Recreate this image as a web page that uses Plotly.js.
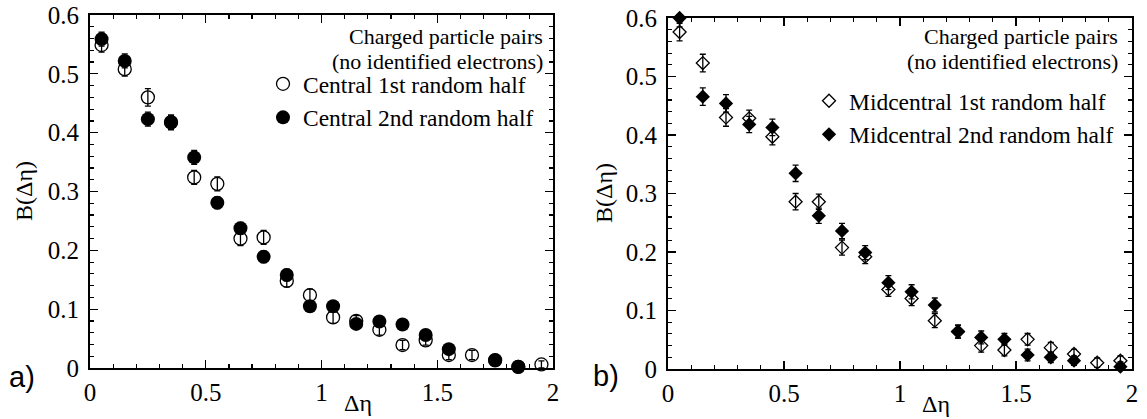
<!DOCTYPE html>
<html><head><meta charset="utf-8">
<script src="https://cdn.plot.ly/plotly-3.0.1.min.js"></script>
<style>html,body{margin:0;padding:0;background:#fff}#g{width:1147px;height:419px}</style>
</head><body><div id="g"></div>
<script>
const dEta = [0.05,0.15,0.25,0.35,0.45,0.55,0.65,0.75,0.85,0.95,1.05,1.15,1.25,1.35,1.45,1.55,1.65,1.75,1.85,1.95];
const central1 = [0.549,0.508,0.460,0.418,0.324,0.313,0.220,0.222,0.148,0.124,0.086,0.080,0.065,0.039,0.047,0.022,0.022,0.013,0.002,0.006];
const central1Err = [0.012,0.012,0.015,0.012,0.012,0.012,0.012,0.012,0.010,0.010,0.010,0.009,0.009,0.008,0.008,0.008,0.008,0.007,0.006,0.006];
const central2 = [0.559,0.522,0.423,0.417,0.358,0.281,0.2375,0.189,0.158,0.105,0.105,0.075,0.079,0.074,0.056,0.032,null,0.0136,0.002,null];
const central2Err = [0.012,0.012,0.012,0.012,0.012,0.010,0.010,0.010,0.010,0.009,0.009,0.008,0.008,0.008,0.008,0.007,0.007,0.006,0.006,0.006];
const mid1 = [0.576,0.523,0.430,0.4285,0.397,0.286,0.286,0.2075,0.192,0.136,0.1205,0.0826,0.064,0.040,0.0325,0.0507,0.0365,0.0256,0.0108,0.0142];
const mid1Err = [0.015,0.015,0.015,0.014,0.014,0.014,0.013,0.013,0.012,0.012,0.012,0.012,0.011,0.011,0.010,0.010,0.009,0.008,0.008,0.008];
const mid2 = [0.600,0.4655,0.454,0.418,0.413,0.3345,0.262,0.236,0.199,0.1476,0.132,0.1094,0.0638,0.054,0.0507,0.024,0.020,0.0142,null,0.004];
const mid2Err = [0.015,0.015,0.015,0.014,0.014,0.014,0.013,0.013,0.012,0.012,0.012,0.012,0.011,0.011,0.010,0.010,0.009,0.008,0.008,0.008];
const legendHeader = ["Charged particle pairs","(no identified electrons)"];
const names = ["Central 1st random half","Central 2nd random half","Midcentral 1st random half","Midcentral 2nd random half"];

const SERIF = "'Liberation Serif', 'DejaVu Serif', serif";
const SANS = "'Liberation Sans', Arial, sans-serif";
function eb(arr){return {type:'data',array:arr,visible:true,color:'#000',thickness:1.3,width:3};}
const traces = [
 {x:dEta,y:central1,error_y:eb(central1Err),mode:'markers',name:names[0],xaxis:'x',yaxis:'y',legend:'legend',
  marker:{symbol:'circle-open',size:13,color:'#000',line:{width:1.3,color:'#000'}},cliponaxis:false},
 {x:dEta,y:central2,error_y:eb(central2Err),mode:'markers',name:names[1],xaxis:'x',yaxis:'y',legend:'legend',
  marker:{symbol:'circle',size:14,color:'#000'},cliponaxis:false},
 {x:dEta,y:mid1,error_y:eb(mid1Err),mode:'markers',name:names[2],xaxis:'x2',yaxis:'y2',legend:'legend2',
  marker:{symbol:'diamond-open',size:10,color:'#000',line:{width:1.3,color:'#000'}},cliponaxis:false},
 {x:dEta,y:mid2,error_y:eb(mid2Err),mode:'markers',name:names[3],xaxis:'x2',yaxis:'y2',legend:'legend2',
  marker:{symbol:'diamond',size:11,color:'#000'},cliponaxis:false}
];
function xax(dom,anchor){return {domain:dom,anchor:anchor,range:[0,2],dtick:0.5,tick0:0,ticks:'inside',ticklen:8,tickwidth:1.2,tickcolor:'#000',
  showline:true,linewidth:2,linecolor:'#000',mirror:'ticks',zeroline:false,showgrid:false,
  minor:{dtick:0.1,ticks:'inside',ticklen:4,tickwidth:1.2,tickcolor:'#000',showgrid:false},
  tickfont:{family:SERIF,size:25,color:'#000'},ticklabelstandoff:1};}
function yax(dom,anchor){return {domain:dom,anchor:anchor,range:[0,0.6],dtick:0.1,tick0:0,ticks:'inside',ticklen:8,tickwidth:1.2,tickcolor:'#000',
  showline:true,linewidth:2,linecolor:'#000',mirror:'ticks',zeroline:false,showgrid:false,
  minor:{dtick:0.02,ticks:'inside',ticklen:4,tickwidth:1.2,tickcolor:'#000',showgrid:false},
  tickfont:{family:SERIF,size:25,color:'#000'},ticklabelstandoff:4};}
const W=1147,H=419;
const px=v=>v/W, py=v=>1-v/H;
const ann=[];
function addAnn(text,x,y,opt){ann.push(Object.assign({text:text,x:x,y:y,xref:'paper',yref:'paper',showarrow:false,borderpad:0,
  font:{family:SERIF,size:22,color:'#000'}},opt||{}));}
addAnn(legendHeader[0],px(544),py(36),{xanchor:'right',yanchor:'middle'});
addAnn(legendHeader[1],px(544),py(61),{xanchor:'right',yanchor:'middle'});
addAnn(legendHeader[0],px(1119),py(37),{xanchor:'right',yanchor:'middle'});
addAnn(legendHeader[1],px(1119),py(62),{xanchor:'right',yanchor:'middle'});
addAnn('B(Δη)',px(24),py(191),{textangle:-90,xanchor:'center',yanchor:'middle',font:{family:SERIF,size:24,color:'#000'}});
addAnn('B(Δη)',px(604),py(193),{textangle:-90,xanchor:'center',yanchor:'middle',font:{family:SERIF,size:24,color:'#000'}});
addAnn('Δη',px(358),py(403),{xanchor:'center',yanchor:'middle',font:{family:SERIF,size:24,color:'#000'}});
addAnn('Δη',px(936),py(404),{xanchor:'center',yanchor:'middle',font:{family:SERIF,size:24,color:'#000'}});
addAnn('a)',px(22),py(377),{xanchor:'center',yanchor:'middle',font:{family:SANS,size:29,color:'#000'}});
addAnn('b)',px(606),py(376),{xanchor:'center',yanchor:'middle',font:{family:SANS,size:29,color:'#000'}});

const layout={width:W,height:H,margin:{l:0,r:0,t:0,b:0},paper_bgcolor:'#fff',plot_bgcolor:'#fff',showlegend:true,
 font:{family:SERIF,color:'#000'},
 xaxis:xax([px(90),px(553)],'y'), yaxis:yax([py(368),py(15)],'x'),
 xaxis2:xax([px(668),px(1132)],'y2'), yaxis2:yax([py(369),py(18)],'x2'),
 legend:{x:px(263),y:py(62),xanchor:'left',yanchor:'top',bgcolor:'rgba(0,0,0,0)',font:{family:SERIF,size:23.5,color:'#000'},itemwidth:30,tracegroupgap:0},
 legend2:{x:px(809),y:py(79),xanchor:'left',yanchor:'top',bgcolor:'rgba(0,0,0,0)',font:{family:SERIF,size:23.5,color:'#000'},itemwidth:30,tracegroupgap:0},
 annotations:ann};
Plotly.newPlot('g',traces,layout,{staticPlot:true,displayModeBar:false});
</script></body></html>
